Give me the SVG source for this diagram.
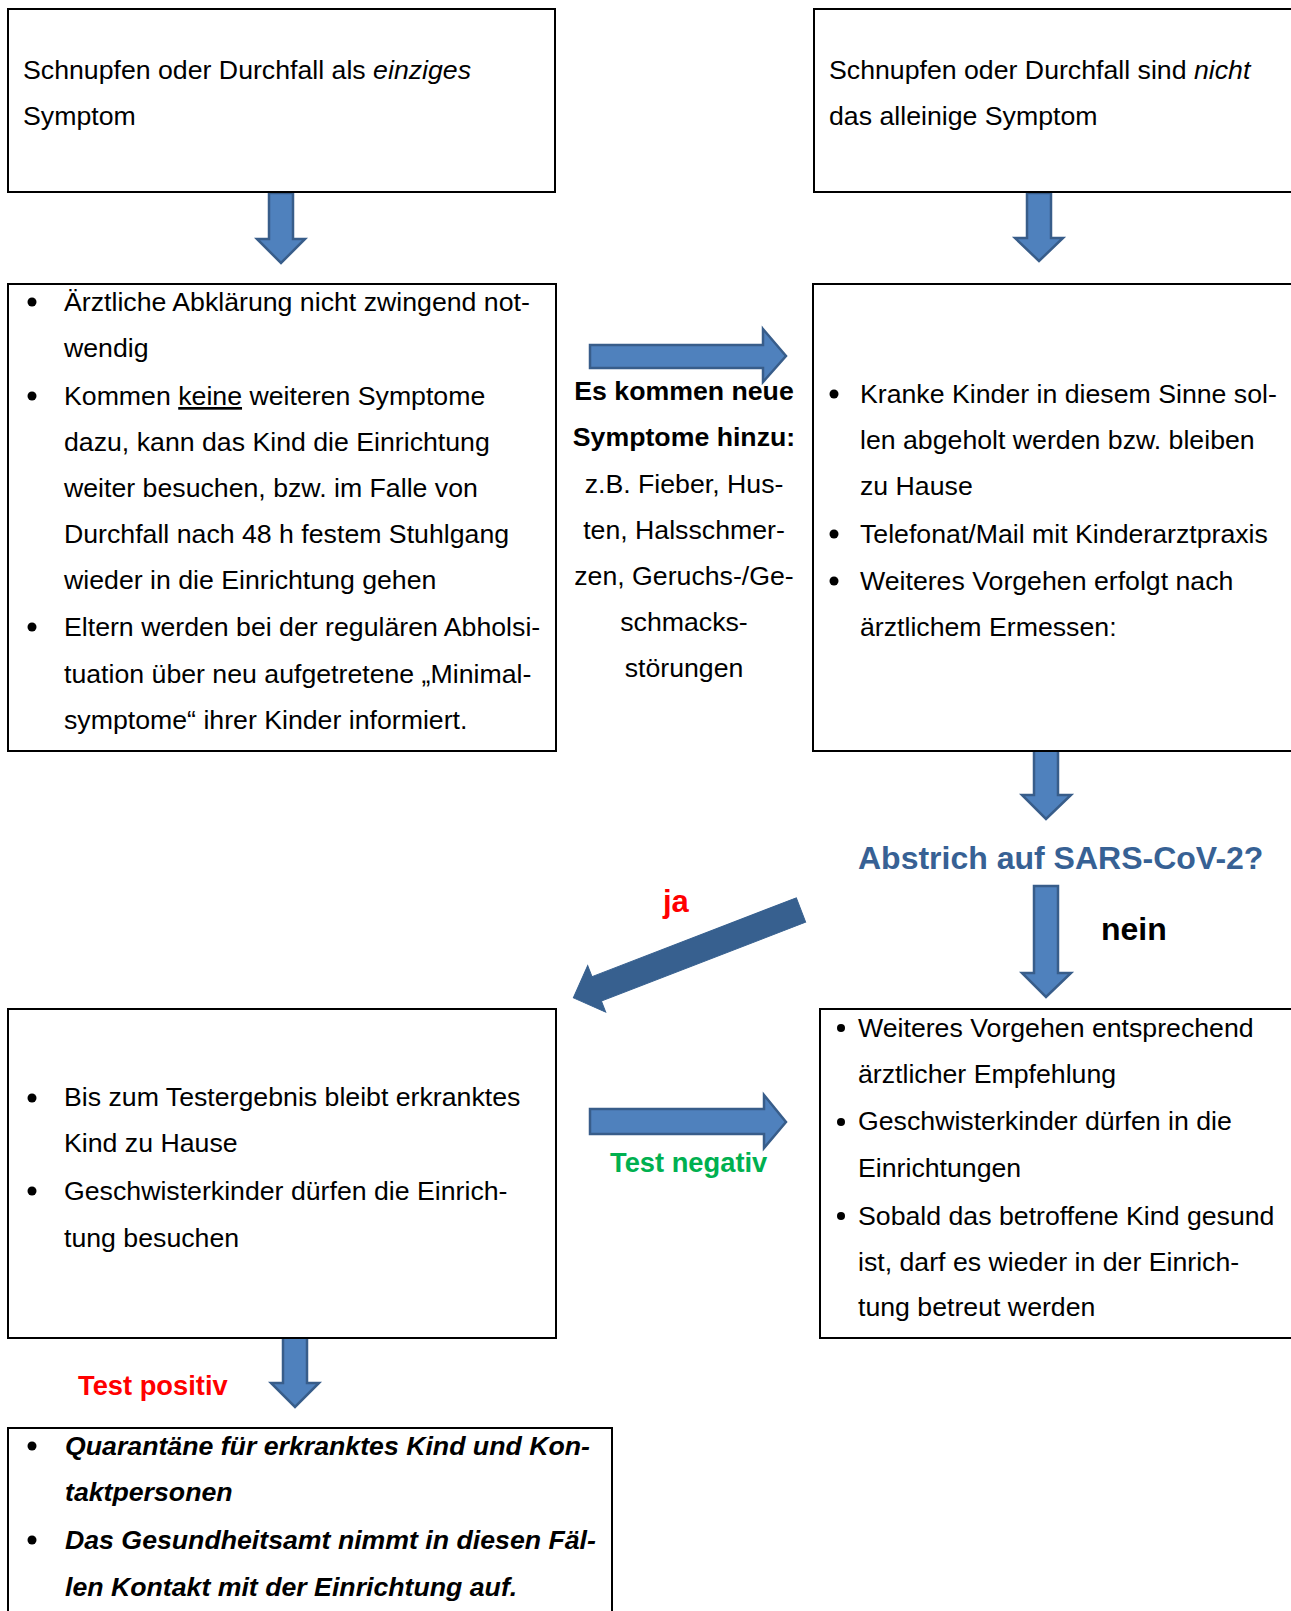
<svg xmlns="http://www.w3.org/2000/svg" width="1291" height="1611" viewBox="0 0 1291 1611">
<style>
.box{fill:#fff;stroke:#000;stroke-width:2}
.t{font-family:"Liberation Sans",Arial,sans-serif;font-size:26.7px;fill:#000}
.b{font-weight:bold}
.i{font-style:italic}
.c{text-anchor:middle}
.arr{fill:#4F81BD;stroke:#385D8A;stroke-width:2.5;stroke-linejoin:miter}
.dg{fill:#37608F;stroke:#37608F;stroke-width:1}
.dot{fill:#000}
</style>
<rect width="1291" height="1611" fill="#fff"/>

<g id="connectors">
  <path class="arr" d="M269,193 H293 V239 H305 L281,263 L257,239 H269 Z"/>
  <path class="arr" d="M1027,193 H1051 V238 H1063 L1039,261 L1015,238 H1027 Z"/>
  <path class="arr" d="M590,345 H763 V329 L786,356 L763,382 V368 H590 Z"/>
  <path class="arr" d="M1034,749 H1058 V795 H1071 L1046,819 L1022,795 H1034 Z"/>
  <path class="arr" d="M1034,886 H1058 V973 H1071 L1046,997 L1022,973 H1034 Z"/>
  <path class="dg" transform="translate(801,910) rotate(158.9)" d="M0,-13 H219 V-25 L244,0 L219,25 V13 H0 Z"/>
  <path class="arr" d="M590,1109 H764 V1095 L786,1122 L764,1148 V1134 H590 Z"/>
  <path class="arr" d="M283,1336 H307 V1383 H319 L295,1407 L271,1383 H283 Z"/>
</g>

<g id="box1">
  <rect class="box" x="8" y="9" width="547" height="183"/>
  <text class="t" x="23" y="79">Schnupfen oder Durchfall als <tspan class="i">einziges</tspan></text>
  <text class="t" x="23" y="125">Symptom</text>
</g>

<g id="box2">
  <rect class="box" x="814" y="9" width="490" height="183"/>
  <text class="t" x="829" y="79">Schnupfen oder Durchfall sind <tspan class="i">nicht</tspan></text>
  <text class="t" x="829" y="125">das alleinige Symptom</text>
</g>

<g id="box3">
  <rect class="box" x="8" y="284" width="548" height="467"/>
  <circle class="dot" cx="32" cy="302" r="4.5"/>
  <circle class="dot" cx="32" cy="396" r="4.5"/>
  <circle class="dot" cx="32" cy="627" r="4.5"/>
  <text class="t" x="64" y="311">Ärztliche Abklärung nicht zwingend not-</text>
  <text class="t" x="64" y="357">wendig</text>
  <text class="t" x="64" y="405">Kommen <tspan text-decoration="underline">keine</tspan> weiteren Symptome</text>
  <text class="t" x="64" y="451">dazu, kann das Kind die Einrichtung</text>
  <text class="t" x="64" y="497">weiter besuchen, bzw. im Falle von</text>
  <text class="t" x="64" y="543">Durchfall nach 48 h festem Stuhlgang</text>
  <text class="t" x="64" y="589">wieder in die Einrichtung gehen</text>
  <text class="t" x="64" y="636">Eltern werden bei der regulären Abholsi-</text>
  <text class="t" x="64" y="683">tuation über neu aufgetretene „Minimal-</text>
  <text class="t" x="64" y="729">symptome“ ihrer Kinder informiert.</text>
</g>

<g id="label-neue-symptome">
  <text class="t b c" x="684" y="400">Es kommen neue</text>
  <text class="t b c" x="684" y="446">Symptome hinzu:</text>
  <text class="t c" x="684" y="493">z.B. Fieber, Hus-</text>
  <text class="t c" x="684" y="539">ten, Halsschmer-</text>
  <text class="t c" x="684" y="585">zen, Geruchs-/Ge-</text>
  <text class="t c" x="684" y="631">schmacks-</text>
  <text class="t c" x="684" y="677">störungen</text>
</g>

<g id="box4">
  <rect class="box" x="813" y="284" width="490" height="467"/>
  <circle class="dot" cx="834" cy="394" r="4.5"/>
  <circle class="dot" cx="834" cy="534" r="4.5"/>
  <circle class="dot" cx="834" cy="581" r="4.5"/>
  <text class="t" x="860" y="403">Kranke Kinder in diesem Sinne sol-</text>
  <text class="t" x="860" y="449">len abgeholt werden bzw. bleiben</text>
  <text class="t" x="860" y="495">zu Hause</text>
  <text class="t" x="860" y="543">Telefonat/Mail mit Kinderarztpraxis</text>
  <text class="t" x="860" y="590">Weiteres Vorgehen erfolgt nach</text>
  <text class="t" x="860" y="636">ärztlichem Ermessen:</text>
</g>

<g id="abstrich">
  <text class="t b" x="858" y="869" style="font-size:32px;fill:#376194">Abstrich auf SARS-CoV-2?</text>
</g>
<g id="label-ja">
  <text class="t b" x="663" y="912" style="font-size:31px;fill:#FF0000">ja</text>
</g>
<g id="label-nein">
  <text class="t b" x="1101" y="940" style="font-size:32px">nein</text>
</g>

<g id="box5">
  <rect class="box" x="8" y="1009" width="548" height="329"/>
  <circle class="dot" cx="32" cy="1098" r="4.5"/>
  <circle class="dot" cx="32" cy="1191" r="4.5"/>
  <text class="t" x="64" y="1106">Bis zum Testergebnis bleibt erkranktes</text>
  <text class="t" x="64" y="1152">Kind zu Hause</text>
  <text class="t" x="64" y="1200">Geschwisterkinder dürfen die Einrich-</text>
  <text class="t" x="64" y="1247">tung besuchen</text>
</g>

<g id="label-test-negativ">
  <text class="t b" x="610" y="1172" style="font-size:27.3px;fill:#00B050">Test negativ</text>
</g>

<g id="box8">
  <rect class="box" x="820" y="1009" width="490" height="329"/>
  <circle class="dot" cx="841" cy="1028" r="4"/>
  <circle class="dot" cx="841" cy="1122" r="4"/>
  <circle class="dot" cx="841" cy="1216" r="4"/>
  <text class="t" x="858" y="1037">Weiteres Vorgehen entsprechend</text>
  <text class="t" x="858" y="1083">ärztlicher Empfehlung</text>
  <text class="t" x="858" y="1130">Geschwisterkinder dürfen in die</text>
  <text class="t" x="858" y="1177">Einrichtungen</text>
  <text class="t" x="858" y="1225">Sobald das betroffene Kind gesund</text>
  <text class="t" x="858" y="1271">ist, darf es wieder in der Einrich-</text>
  <text class="t" x="858" y="1316">tung betreut werden</text>
</g>

<g id="label-test-positiv">
  <text class="t b" x="78" y="1395" style="font-size:27.3px;fill:#FF0000">Test positiv</text>
</g>

<g id="box6">
  <rect class="box" x="8" y="1428" width="604" height="200"/>
  <circle class="dot" cx="32" cy="1446" r="4.5"/>
  <circle class="dot" cx="32" cy="1540" r="4.5"/>
  <text class="t b i" x="65" y="1455">Quarantäne für erkranktes Kind und Kon-</text>
  <text class="t b i" x="65" y="1501">taktpersonen</text>
  <text class="t b i" x="65" y="1549">Das Gesundheitsamt nimmt in diesen Fäl-</text>
  <text class="t b i" x="65" y="1596">len Kontakt mit der Einrichtung auf.</text>
</g>
</svg>
